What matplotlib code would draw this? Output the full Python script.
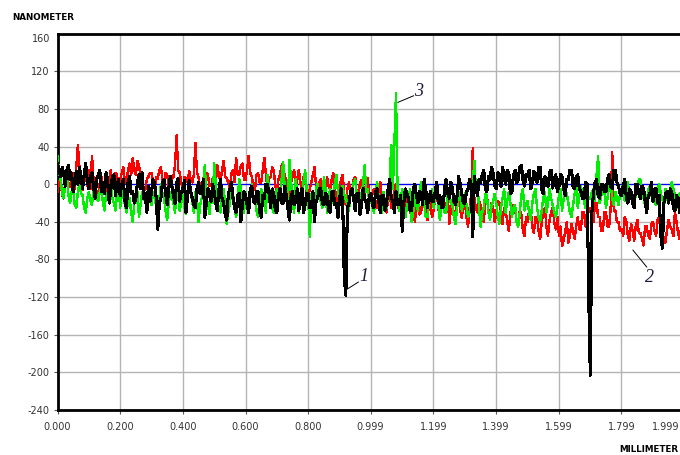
import numpy as np
import matplotlib
matplotlib.use("Agg")
import matplotlib.pyplot as plt

# profil po duzini (mm), tri mjerenja, korak 0.005 mm
x_tick_vals = [0.0, 0.2, 0.4, 0.6, 0.8, 0.999, 1.199, 1.399, 1.599, 1.799, 1.999]
y_tick_vals = [-240, -200, -160, -120, -80, -40, 0, 40, 80, 120]
step = 0.005

# krivulja 1 (crna), jedan red = 0.1 mm
ser1 = [22, 15, 8, 18, 10, -2, 15, 20, 5, 12, -8, 6, 14, 0, 18, 8, -5, 10, 22, 4,
        -5, 8, 12, -3, -15, 6, 10, 15, -8, 2, -10, 12, 5, -20, -6, 8, 10, -12, -2, 5,
        -12, 0, 5, -18, -25, 2, 8, -10, -8, -20, -15, 2, 10, -5, 12, -15, -10, -30, -2, -18,
        -8, 5, 0, -15, -48, -20, -15, 2, 5, -10, -22, -5, 8, -2, -12, -20, 2, 6, -18, -8,
        -5, 4, -30, -12, 4, -8, -15, -22, -25, -5, 2, -10, -10, 5, -35, -20, -5, -12, -18, 0,
        -8, -20, -28, -5, 5, -15, -20, -32, -38, -10, -5, 2, -15, -25, -30, -12, -10, -40, -22, -8,
        -12, -22, -30, -5, -2, -18, -20, -8, -8, -30, -35, -12, -15, 0, 0, -10, -25, -5, -10, -28,
        -30, -12, -5, -20, -20, -2, -12, -25, -38, -15, -8, -22, -18, -5, -28, -12, -5, -30, -22, -10,
        -10, -25, -25, -8, -40, -18, -15, -5, -5, -20, -22, -10, -12, -28, -30, -8, -8, -22, -20, -35,
        -15, -5, -20, -100, -118, -25, -20, -8, -5, -15, -28, -10, -10, -32, -22, -5, -15, -20, -30, -12,
        -10, -22, -25, -8, -5, -18, -30, -12, -12, -28, -20, -5, 5, -15, -18, -30, -8, -20, -22, -12,
        -50, -20, -5, -10, -15, -28, -28, -5, 0, -12, -20, -8, -10, -22, 5, -5, -25, -15, -8, -18,
        -18, -8, 2, -20, -12, -25, -25, -5, 5, -10, -15, 2, -5, -18, -22, -12, 8, 0, -10, -20,
        -20, -8, -5, 5, 0, -56, 8, -5, -12, 5, 2, 10, 15, -5, -8, 8, 5, 18, 12, -2,
        -5, 12, 10, -2, 18, 8, 0, 15, 12, -10, -8, 10, 15, 2, 5, 18, 20, 5, -2, 10,
        8, 15, -5, 2, 14, 5, 2, 18, 18, -5, -10, 8, 6, -2, 12, 15, -4, 5, 10, -8,
        -2, 10, 8, -5, -12, 5, 5, 15, 15, -2, -5, 8, 10, -5, -8, -15, -15, 2, 0, -120,
        -203, -30, -10, 2, 5, -12, -15, 0, 0, -8, -8, 5, 10, -2, -5, 15, 15, 2, -2, -10,
        -12, -2, 5, -15, -20, -5, -8, -20, -25, 0, 0, -10, -15, -2, -5, -18, -30, -12, -10, 2,
        -18, -5, -5, -20, -12, -55, -68, -20, -10, -8, -20, -5, -8, -25, -28, -12, -15, -30, -25, -10,
        -30, -22, -20, -35, -28, -20, -35, -25, -25, -30]

# krivulja 2 (crvena)
ser2 = [-8, 2, 6, -12, -15, 5, 10, 0, -3, 8, 12, -5, 18, 42, 18, 5, -6, 10, 10, -2,
        15, -5, 30, 5, 5, -10, -18, 2, 8, -8, 2, 10, -12, 5, 15, -2, 0, 12, 10, -8,
        5, 12, 18, 2, 2, 15, 22, 10, 28, 15, 10, 25, 20, 8, 4, -5, -6, 5, 8, 12,
        12, 2, -4, 8, 6, 15, 18, 5, 2, 12, 10, -2, -3, 5, 8, 20, 52, 15, 12, 2,
        -5, 8, 6, 2, 14, 5, 2, 10, 44, 12, 8, -5, -8, 6, 4, 12, 10, -2, -2, 6,
        8, 2, 20, 10, 2, 15, 25, 8, 6, 2, -4, 12, 15, 2, 28, 10, 10, 20, 22, 5,
        5, 15, 30, 12, 8, -2, -6, 10, 12, 2, 2, 15, 28, 10, -4, 6, 8, 18, 15, -2,
        -6, 5, 10, 20, 22, 8, 4, -8, -12, 2, 8, 15, -2, 5, 15, 2, -8, 8, 5, -10,
        -15, -5, 2, 10, 18, -2, -10, 2, 5, -12, -20, -5, 8, -2, -5, 5, 12, -8, -18, -5,
        -4, 6, 10, -12, -22, -5, 2, -8, -10, 5, 8, -12, -15, 2, 4, -10, -12, 2, 6, -15,
        -18, -10, -5, -20, -25, -8, 2, -15, -12, -25, -30, -15, -8, -25, -20, -5, 0, -18, -28, -12,
        -15, -28, -35, -15, -10, -30, -22, -12, -40, -25, -18, -32, -30, -15, -12, -28, -38, -22, -20, -35,
        -28, -15, -8, -25, -35, -20, -15, -30, -25, -10, -42, -28, -18, -35, -30, -15, -10, -28, -36, -22,
        -20, -35, -45, -25, -10, 38, -15, -25, -30, -18, -22, -35, -40, -20, -12, -28, -32, -20, -25, -40,
        -30, -18, -20, -35, -42, -25, -28, -40, -50, -30, -35, -22, -25, -40, -45, -28, -32, -50, -55, -35,
        -40, -28, -28, -45, -52, -35, -35, -50, -58, -40, -30, -25, -45, -55, -38, -30, -25, -40, -48, -35,
        -55, -45, -66, -60, -50, -40, -62, -55, -42, -50, -58, -45, -35, -48, -48, -30, -30, -45, -45, -25,
        -25, -40, -40, -20, -20, -35, -35, -50, -50, -30, -30, -45, -45, -25, 34, -28, -28, -40, -40, -50,
        -48, -55, -35, -40, -55, -60, -42, -50, -60, -45, -38, -52, -52, -58, -65, -45, -45, -55, -58, -42,
        -40, -50, -55, -38, -35, -45, -50, -60, -62, -48, -38, -45, -48, -55, -30, -40, -52, -58, -45, -38,
        -58, -45, -40, -52, -50, -38, -35, -48, -48, -55]

# krivulja 3 (zelena)
ser3 = [30, 12, 5, -10, -15, 2, 8, -12, -20, -8, -5, -22, -25, -8, 0, -10, -12, -25, -30, -15,
        -8, -18, -22, -5, 2, -15, -18, -8, -5, -20, -28, -10, -12, -2, 0, -15, -20, -28, -10, -5,
        -25, -12, -5, -22, -30, -18, -15, -30, -40, -20, -20, -8, -35, -22, -8, -15, -18, -28, -2, -12,
        -22, -8, -10, -25, -30, -15, 0, -10, -15, -28, -38, -20, -8, -15, -20, -30, -5, -12, -28, -18,
        -12, -25, -32, -15, 2, -10, -18, -30, -8, -15, -40, -22, -15, -5, 20, -12, -22, -32, -10, -20,
        22, 0, -15, -28, -30, -12, -5, -20, -42, -30, -20, -8, -10, -25, -35, -15, 5, -5, -18, -30,
        -8, -20, -28, -12, 0, -15, -15, -28, -35, -20, -5, -12, -22, -30, 10, -5, -12, -25, -30, -15,
        -5, -18, -12, 5, 24, -5, -10, -20, 26, 5, -20, -30, 5, -8, -30, -15, -8, 2, 15, -5,
        -15, -56, -10, -22, -25, -5, 0, -12, -18, -25, 8, -5, -30, -15, -5, -20, -15, 2, 10, -8,
        -20, -5, -2, -15, -12, -25, -28, -10, -8, 2, 5, -12, -18, -25, -10, 0, 20, -8, -5, -18,
        -15, -25, -30, -10, 2, -15, -20, -30, -8, -20, -25, -10, 5, 42, -5, 44, 97, -8, -28, -15,
        -5, -20, -35, -25, -15, -5, -40, -30, -10, -22, -28, -12, 2, -15, -20, -35, -35, -20, -12, -5,
        -25, -15, -5, -22, -38, -25, -18, -30, -30, -12, -8, -20, -22, -35, -42, -25, -15, -8, -28, -18,
        -10, -22, -35, -30, -20, 0, 25, -5, 0, -25, -45, -30, -25, -10, -12, -30, -38, -22, -18, -10,
        -20, -35, -42, -25, -15, -5, -30, -18, -8, -20, -35, -25, -22, -40, -45, -30, -12, -5, -28, -20,
        -18, -30, -38, -20, -10, -5, -25, -35, -40, -28, -15, -8, -30, -20, -5, -15, -22, -30, -35, -25,
        -12, -5, -28, -15, -5, -10, -20, -30, -35, -22, -10, -2, -25, -12, -2, -10, -18, -25, -8, -15,
        -15, -8, -5, -18, 10, 30, -20, -12, -10, -5, -25, -15, 0, 2, -15, -22, -8, -15, -22, -10,
        -5, 0, -18, -10, 2, -15, -12, -20, -25, -10, -8, 5, 5, -12, -15, -22, -20, -5, -3, -12,
        -10, -18, -22, -5, 0, -10, -15, -25, -5, -15, -20, -8, 2, -5, -12, -20, -25, -10, -8, -2,
        -2, -10, -15, -5, -8, -18, -20, -12, -5, -2]


def mm(ser):
    # polozaj mjernih tocaka u mm
    return np.arange(len(ser)) * step


fig = plt.figure(figsize=(6.8, 4.55), dpi=100)
# os ide malo preko desnog ruba slike, kao u originalu
ax = fig.add_axes([57.5 / 680, 45 / 455, 626.5 / 680, 376.3 / 455])

ax.axhline(0, color="#0000ff", lw=0.9, zorder=2)
# bez zagladivanja, kao u originalnom programu
ax.plot(mm(ser2), ser2, color="#ff0000", lw=1.0, zorder=3, antialiased=False)
ax.plot(mm(ser3), ser3, color="#00ee00", lw=1.0, zorder=4, antialiased=False)
ax.plot(mm(ser1), ser1, color="black", lw=1.5, zorder=5, antialiased=False)

ax.set_xlim(0, 1.999)
ax.set_ylim(-240, 160)
ax.set_xticks(x_tick_vals)
# zadnja oznaka se crta posebno da stane na sliku
ax.set_xticklabels(["%.3f" % v for v in x_tick_vals[:-1]] + [""])
ax.set_yticks(y_tick_vals)
ax.set_yticklabels([str(v) for v in y_tick_vals])
ax.tick_params(axis="both", labelsize=7, labelcolor="#333333", color="#555555",
               length=3, width=0.8)
ax.tick_params(axis="x", pad=6)
ax.tick_params(axis="y", pad=2.5)
ax.grid(True, color="#b4b4b4", lw=1, zorder=0)
ax.set_axisbelow(True)

fig.text(679 / 680, 1 - 427 / 455, "%.3f" % x_tick_vals[-1], ha="right",
         va="center", fontsize=7, color="#333333")
# oznaka 160 je malo spustena ispod ruba
ax.text(-0.012, 160, "160", transform=ax.get_yaxis_transform(), ha="right",
        va="top", fontsize=7, color="#333333")

for side in ["left", "bottom", "top"]:
    ax.spines[side].set_linewidth(2)
    ax.spines[side].set_color("black")
ax.spines["right"].set_visible(False)

# brojevi krivulja
num_style = dict(fontsize=13, style="italic", family="Liberation Serif",
                 color="#1a1a3a", zorder=6)
ax.plot([0.922, 0.96], [-112, -104], color="black", lw=0.7, zorder=6)
ax.text(0.963, -98, "1", ha="left", va="center", **num_style)
ax.plot([1.836, 1.88], [-70, -88], color="black", lw=0.7, zorder=6)
ax.text(1.875, -99, "2", ha="left", va="center", **num_style)
ax.plot([1.086, 1.136], [87, 94], color="black", lw=0.7, zorder=6)
ax.text(1.138, 99, "3", ha="left", va="center", **num_style)

fig.text(12 / 680, 1 - 18 / 455, "NANOMETER", fontsize=6.3, weight="bold",
         va="center", ha="left")
fig.text(619 / 680, 1 - 450 / 455, "MILLIMETER", fontsize=6.3, weight="bold",
         va="center", ha="left")

plt.savefig("out.png", dpi=100)
